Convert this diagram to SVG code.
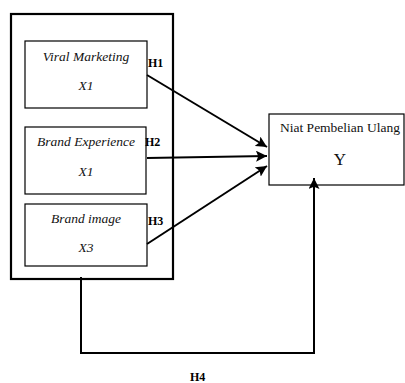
<svg xmlns="http://www.w3.org/2000/svg" width="405" height="383" viewBox="0 0 405 383">
<defs>
<marker id="arr" viewBox="0 0 10 10" refX="10" refY="5" markerWidth="5.5" markerHeight="5.5" orient="auto" markerUnits="strokeWidth">
<path d="M0,0 L10,5 L0,10 L2,5 z" fill="#000"/>
</marker>
<style>
.box{fill:#fff;stroke:#000;stroke-width:1.2}
.outer{fill:none;stroke:#000;stroke-width:2.2}
.it{font-family:"Liberation Serif","Times New Roman",serif;font-style:italic;font-size:13.5px;text-anchor:middle;fill:#111}
.rm{font-family:"Liberation Serif","Times New Roman",serif;font-size:13.5px;text-anchor:middle;fill:#111}
.h{font-family:"Liberation Serif","Times New Roman",serif;font-weight:bold;font-size:12px;fill:#000}
.ln{fill:none;stroke:#000;stroke-width:2}
</style>
</defs>
<rect width="405" height="383" fill="#fff"/>
<g id="group-x">
<rect class="outer" x="11" y="14" width="162" height="265"/>
</g>
<g id="x1">
<rect class="box" x="25" y="41" width="122" height="67"/>
<text class="it" x="86" y="61">Viral Marketing</text>
<text class="it" x="86" y="90">X1</text>
</g>
<g id="x2">
<rect class="box" x="25" y="127" width="121" height="67"/>
<text class="it" x="86" y="146">Brand Experience</text>
<text class="it" x="86" y="176">X1</text>
</g>
<g id="x3">
<rect class="box" x="25" y="204" width="122" height="62"/>
<text class="it" x="86" y="223">Brand image</text>
<text class="it" x="86" y="252">X3</text>
</g>
<g id="y">
<rect class="box" x="269" y="114" width="135" height="71"/>
<text class="rm" x="340" y="132">Niat Pembelian Ulang</text>
<text class="rm" x="340" y="165" style="font-size:17px">Y</text>
</g>
<g id="connectors">
<line class="ln" x1="147" y1="75" x2="267" y2="147" marker-end="url(#arr)"/>
<line class="ln" x1="147" y1="158" x2="267" y2="156" marker-end="url(#arr)"/>
<line class="ln" x1="147" y1="244" x2="267" y2="166" marker-end="url(#arr)"/>
<polyline class="ln" points="81,277 81,353 314,353 314,178" marker-end="url(#arr)"/>
</g>
<g id="labels">
<text class="h" x="148" y="67">H1</text>
<text class="h" x="145" y="146">H2</text>
<text class="h" x="148" y="225">H3</text>
<text class="h" x="190" y="381">H4</text>
</g>
</svg>
